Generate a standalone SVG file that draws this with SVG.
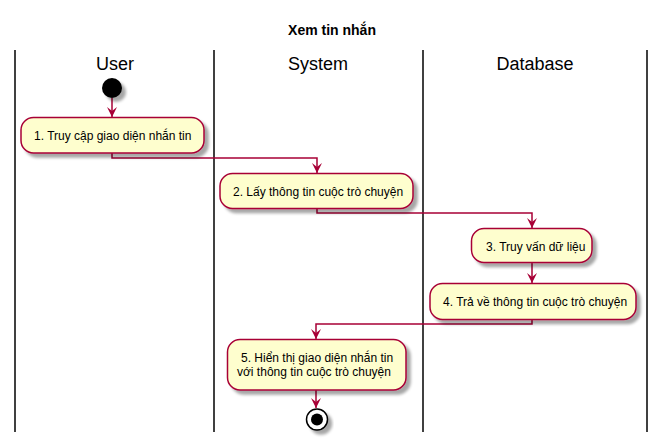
<svg xmlns="http://www.w3.org/2000/svg" width="664" height="447" viewBox="0 0 664 447">
<defs>
<filter id="sh" x="-20%" y="-20%" width="150%" height="160%">
<feGaussianBlur in="SourceAlpha" stdDeviation="1.7"/>
<feOffset dx="4" dy="4" result="b"/>
<feComponentTransfer><feFuncA type="linear" slope="0.35"/></feComponentTransfer>
<feMerge><feMergeNode/><feMergeNode in="SourceGraphic"/></feMerge>
</filter>
<marker id="ah" viewBox="0 0 10 10" refX="10" refY="5" markerWidth="10" markerHeight="10" markerUnits="userSpaceOnUse" orient="auto">
<path d="M0,0 L10,5 L0,10 L4,5 Z" fill="#A80036"/>
</marker>
</defs>
<style>
.lane{stroke:#000;stroke-width:1.5;fill:none}
.act{fill:#FEFECE;stroke:#A80036;stroke-width:1.5;filter:url(#sh)}
.t{font-family:"Liberation Sans",Arial,sans-serif;font-size:12px;fill:#000}
.h{font-family:"Liberation Sans",Arial,sans-serif;font-size:18px;fill:#000;text-anchor:middle}
.c{stroke:#A80036;stroke-width:1.5;fill:none;marker-end:url(#ah)}
</style>
<rect width="664" height="447" fill="#fff"/>
<text x="332" y="35" text-anchor="middle" style="font-family:'Liberation Sans',Arial,sans-serif;font-size:14px;font-weight:bold">Xem tin nhắn</text>
<g id="lanes">
<line class="lane" x1="15" y1="50" x2="15" y2="432"/>
<line class="lane" x1="214" y1="50" x2="214" y2="432"/>
<line class="lane" x1="423" y1="50" x2="423" y2="432"/>
<line class="lane" x1="647" y1="50" x2="647" y2="432"/>
<text class="h" x="115" y="70">User</text>
<text class="h" x="318" y="70">System</text>
<text class="h" x="535" y="70">Database</text>
</g>
<g id="connectors">
<path class="c" d="M112,98 L112,117"/>
<path class="c" d="M112,153 L112,158 L317,158 L317,173"/>
<path class="c" d="M317,209 L317,213 L532,213 L532,228"/>
<path class="c" d="M532,263 L532,283"/>
<path class="c" d="M532,319 L532,324 L316,324 L316,339"/>
<path class="c" d="M316,390 L316,408"/>
</g>
<g id="start"><circle cx="112" cy="88" r="10" fill="#000" filter="url(#sh)"/></g>
<g id="a1"><rect class="act" x="21" y="117.5" width="183" height="35.5" rx="12.5"/><text class="t" x="34" y="140">1. Truy cập giao diện nhắn tin</text></g>
<g id="a2"><rect class="act" x="220" y="173.5" width="193" height="35" rx="12.5"/><text class="t" x="233" y="196">2. Lấy thông tin cuộc trò chuyện</text></g>
<g id="a3"><rect class="act" x="471.5" y="228.5" width="120.5" height="34" rx="12.5"/><text class="t" x="486" y="251">3. Truy vấn dữ liệu</text></g>
<g id="a4"><rect class="act" x="430" y="283.5" width="206" height="36" rx="12.5"/><text class="t" x="443" y="306">4. Trả về thông tin cuộc trò chuyện</text></g>
<g id="a5"><rect class="act" x="227.5" y="339.5" width="178.5" height="50.5" rx="12.5"/><text class="t" x="241" y="362">5. Hiển thị giao diện nhắn tin</text><text class="t" x="237" y="376">với thông tin cuộc trò chuyện</text></g>
<g id="end"><circle cx="317" cy="419.5" r="10.5" fill="#fff" stroke="#000" stroke-width="1.5" filter="url(#sh)"/><circle cx="317" cy="419.5" r="6" fill="#000"/></g>
</svg>
